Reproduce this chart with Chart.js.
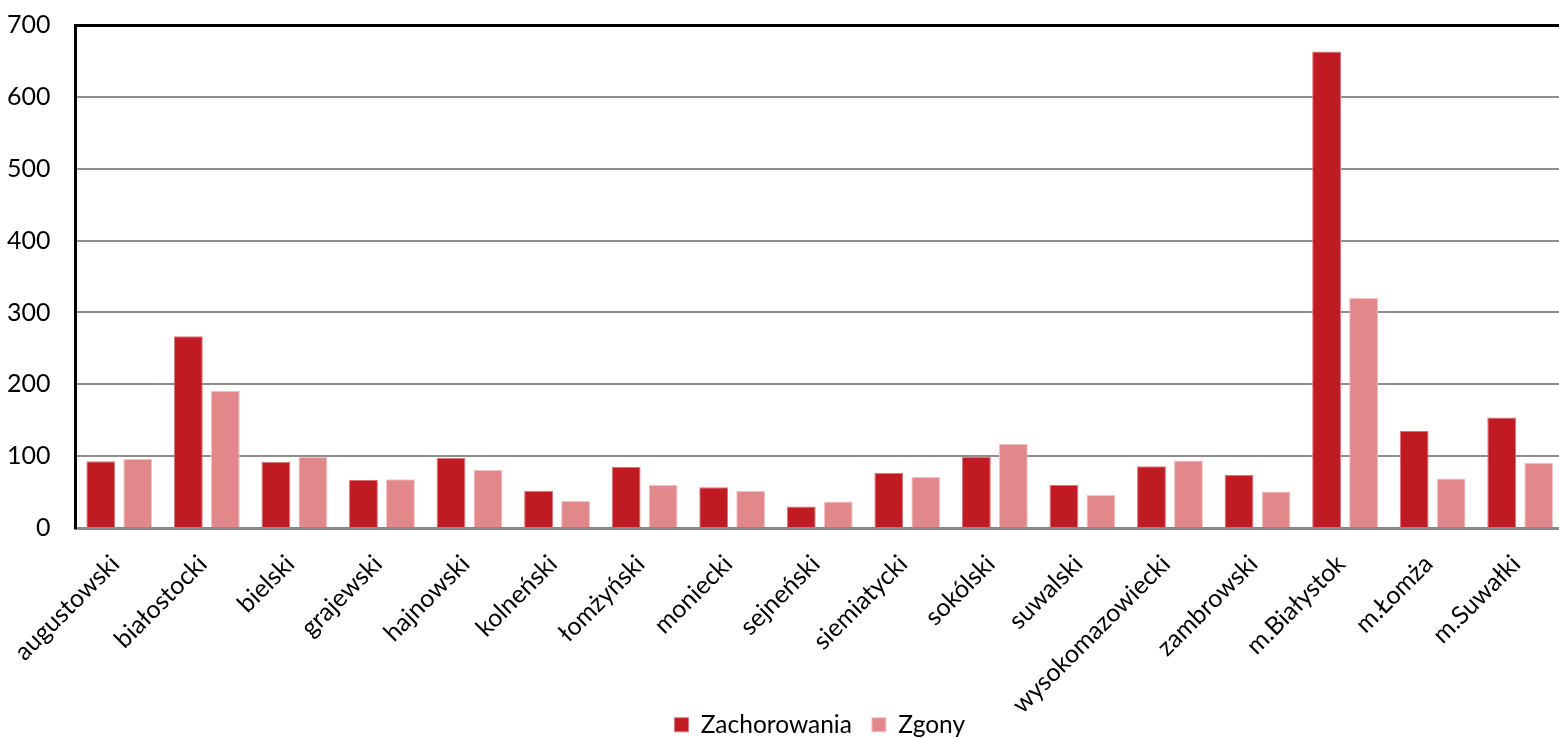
<!DOCTYPE html>
<html>
<head>
<meta charset="utf-8">
<script src="https://cdn.jsdelivr.net/npm/chart.js@4"></script>
<style>
  html, body { margin: 0; padding: 0; background: #fff; overflow: hidden; }
  .wrap { width: 1568px; height: 738px; }
</style>
</head>
<body>
<div class="wrap"><canvas id="chart"></canvas></div>
<script>
// dane
const powiaty = ['augustowski', 'białostocki', 'bielski', 'grajewski', 'hajnowski', 'kolneński', 'łomżyński',
    'moniecki', 'sejneński', 'siemiatycki', 'sokólski', 'suwalski', 'wysokomazowiecki', 'zambrowski',
    'm.Białystok', 'm.Łomża', 'm.Suwałki'];
const zachorowania = [93, 267, 92, 67, 98, 52, 85, 57, 30, 77, 99, 60, 86, 74, 663, 135, 154];
const zgony = [96, 191, 99, 68, 81, 38, 60, 52, 37, 71, 117, 46, 94, 51, 320, 69, 91];
const yTicks = [0, 100, 200, 300, 400, 500, 600, 700];

Chart.defaults.font.family = 'Lato, "Open Sans", sans-serif';
Chart.defaults.color = '#000';

// Chart.js reserves tick padding on both sides of the labels - drop the outer half.
// x axis also lets the long rotated labels run down beside the legend,
// so its label clipping is switched off
const fitX = scale => {
    scale.paddingLeft = 0;
    scale.paddingRight = 0;
    scale.height -= scale.options.ticks.padding + 27;
    scale._computeLabelArea = () => null;
};
const fitY = scale => {
    scale.paddingTop = 0;
    scale.paddingBottom = 0;
    scale.width -= scale.options.ticks.padding;
};

const ctx = document.getElementById('chart').getContext('2d');

new Chart(ctx, {
    type: 'bar',
    data: {
        labels: powiaty,
        datasets: [
            {
                label: 'Zachorowania',
                data: zachorowania,
                backgroundColor: '#C01B23',
                borderColor: '#D9757A',
                borderWidth: 1,
                categoryPercentage: 0.845,
                barPercentage: 0.78
            },
            {
                label: 'Zgony',
                data: zgony,
                backgroundColor: '#E3888A',
                borderColor: '#F2C4C5',
                borderWidth: 1,
                categoryPercentage: 0.845,
                barPercentage: 0.78
            }
        ]
    },
    options: {
        responsive: true,
        maintainAspectRatio: false,
        animation: false,
        layout: { padding: { top: 25, left: 7, right: 4, bottom: -9 } },
        plugins: {
            tooltip: { enabled: false },
            legend: {
                position: 'bottom',
                fullSize: false,
                labels: {
                    boxWidth: 14,
                    boxHeight: 14,
                    padding: 20,
                    font: { size: 24.5 }
                }
            }
        },
        scales: {
            x: {
                afterFit: fitX,
                grid: { display: false, drawTicks: false },
                border: { color: '#888', width: 3 },
                ticks: {
                    maxRotation: 45,
                    minRotation: 45,
                    autoSkip: false,
                    padding: 21,
                    labelOffset: -4,
                    font: { size: 25 }
                }
            },
            y: {
                min: 0,
                max: 700,
                afterFit: fitY,
                afterBuildTicks: axis => { axis.ticks = yTicks.map(v => ({ value: v })); },
                grid: {
                    drawTicks: false,
                    lineWidth: ctx => (ctx.tick && ctx.tick.value === 700 ? 3 : 2),
                    color: ctx => {
                        if (!ctx.tick) return '#8f8f8f';
                        if (ctx.tick.value === 700) return '#000';
                        return '#8f8f8f';
                    }
                },
                border: { color: '#000', width: 3 },
                ticks: {
                    padding: 25,
                    font: { size: 25 }
                }
            }
        }
    }
});
</script>
</body>
</html>
